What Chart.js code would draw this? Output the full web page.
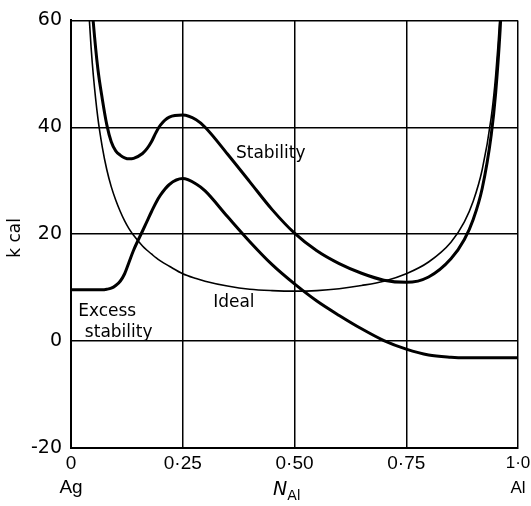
<!DOCTYPE html>
<html>
<head>
<meta charset="utf-8">
<script src="https://cdn.jsdelivr.net/npm/chart.js@4"></script>
<style>
  html, body { margin: 0; padding: 0; background: #fff; }
</style>
</head>
<body>
<canvas id="chart-1" width="531" height="506"></canvas>
<script>
// mole fraction of Al
var nAl = [0, 0.02, 0.035, 0.04, 0.045, 0.05, 0.06, 0.07, 0.08, 0.09,
  0.10, 0.11, 0.12, 0.13, 0.14, 0.16, 0.17, 0.18, 0.19, 0.20,
  0.22, 0.25, 0.28, 0.30, 0.35, 0.40, 0.45, 0.50, 0.55, 0.60,
  0.65, 0.70, 0.75, 0.80, 0.85, 0.88, 0.90, 0.92, 0.94, 0.95,
  0.96, 0.965, 1.0];

var stability = [null, null, 80.0, 72.0, 65.0, 59.5, 51.0, 45.3, 40.5, 37.3,
  35.6, 34.8, 34.3, 34.1, 34.2, 35.1, 36.0, 37.3, 39.0, 40.4,
  41.9, 42.3, 41.4, 40.0, 35.0, 29.8, 24.6, 20.2, 16.9, 14.5,
  12.7, 11.4, 11.0, 12.0, 15.4, 19.0, 22.8, 28.6, 38.5, 46.4,
  58.2, 66.6, null];

var ideal = [null, null, 69.9, 61.5, 54.9, 49.7, 41.8, 36.3, 32.1, 28.9,
  26.4, 24.3, 22.5, 21.0, 19.8, 17.8, 17.0, 16.3, 15.6, 15.0,
  14.0, 12.6, 11.7, 11.2, 10.3, 9.7, 9.45, 9.35, 9.45, 9.8,
  10.4, 11.2, 12.6, 14.8, 18.5, 22.3, 26.2, 32.1, 41.8, 49.7,
  61.5, 69.9, null];

var excess = [9.6, 9.6, 9.6, 9.6, 9.6, 9.6, 9.6, 9.6, 9.7, 9.9,
  10.4, 11.2, 12.6, 14.8, 17.0, 20.6, 22.4, 24.2, 25.9, 27.3,
  29.3, 30.4, 29.4, 28.1, 23.3, 18.6, 14.3, 10.7, 7.5, 4.8,
  2.3, 0.1, -1.5, -2.6, -3.0, -3.1, -3.1, -3.1, -3.1, -3.1,
  -3.1, -3.1, -3.1];

var xTickLabels = [["0", "Ag"], "0·25", "0·50", "0·75", ["1·0", "Al"]];

// curve labels, placed in data units
var notes = [
  { text: "Stability", x: 0.369, y: 35.0 },
  { text: "Ideal", x: 0.318, y: 7.2 },
  { text: "Excess", x: 0.016, y: 5.6 },
  { text: "stability", x: 0.031, y: 1.6 }
];

function points(ys) {
  return nAl.map(function (x, i) {
    return { x: x, y: ys[i] };
  });
}

var FONT = "'DejaVu Sans', sans-serif";

var textPlugin = {
  id: "texts",
  afterDatasetsDraw: function (chart) {
    var ctx = chart.ctx;
    var xs = chart.scales.x;
    var ys = chart.scales.y;
    ctx.save();
    ctx.fillStyle = "#000";
    ctx.font = "17px " + FONT;
    ctx.textBaseline = "middle";
    ctx.textAlign = "left";
    notes.forEach(function (n) {
      ctx.fillText(n.text, xs.getPixelForValue(n.x), ys.getPixelForValue(n.y));
    });

    // y title
    ctx.save();
    ctx.translate(16, 238);
    ctx.rotate(-Math.PI / 2);
    ctx.textAlign = "center";
    ctx.font = "17px " + FONT;
    ctx.fillText("k cal", 0, 0);
    ctx.restore();

    // x title N_Al
    ctx.textAlign = "left";
    ctx.font = "italic 19px " + FONT;
    ctx.fillText("N", 273, 490);
    var w = ctx.measureText("N").width;
    ctx.font = "14px " + FONT;
    ctx.fillText("Al", 273 + w, 496);
    ctx.restore();
  }
};

var ctx = document.getElementById("chart-1").getContext("2d");
var myChart = new Chart(ctx, {
  type: "line",
  data: {
    datasets: [
      {
        label: "Stability",
        data: points(stability),
        borderColor: "#000",
        borderWidth: 3,
        pointRadius: 0,
        cubicInterpolationMode: "monotone",
        clip: 0
      },
      {
        label: "Ideal",
        data: points(ideal),
        borderColor: "#000",
        borderWidth: 1.6,
        pointRadius: 0,
        cubicInterpolationMode: "monotone",
        clip: 0
      },
      {
        label: "Excess stability",
        data: points(excess),
        borderColor: "#000",
        borderWidth: 3,
        pointRadius: 0,
        cubicInterpolationMode: "monotone",
        clip: 0
      }
    ]
  },
  options: {
    responsive: false,
    animation: false,
    layout: { padding: { top: 15, right: 13, left: 0, bottom: 0 } },
    plugins: {
      legend: { display: false },
      tooltip: { enabled: false }
    },
    scales: {
      x: {
        type: "linear",
        min: 0,
        max: 1,
        afterFit: function (s) {
          s.height = 58;
          s.paddingLeft = 0;
          s.paddingRight = 0;
        },
        grid: { color: "#000", lineWidth: 1.5, drawTicks: false },
        border: { color: "#000", width: 2 },
        ticks: {
          stepSize: 0.25,
          padding: 3,
          color: "#000",
          // last label sits at the page edge, keep it a bit smaller so it fits
          font: function (c) {
            return {
              family: "'Liberation Sans', sans-serif",
              size: c.index === 4 ? 17 : 19,
              lineHeight: c.index === 4 ? 1.45 : 1.3
            };
          },
          maxRotation: 0,
          callback: function (value, index) {
            return xTickLabels[index];
          }
        }
      },
      y: {
        min: -20,
        max: 60,
        afterFit: function (s) { s.width = 71; },
        grid: { color: "#000", lineWidth: 1.5, drawTicks: false },
        border: { color: "#000", width: 2 },
        ticks: {
          stepSize: 20,
          padding: 9,
          color: "#000",
          font: { family: FONT, size: 19 }
        }
      }
    }
  },
  plugins: [textPlugin]
});
</script>
</body>
</html>
